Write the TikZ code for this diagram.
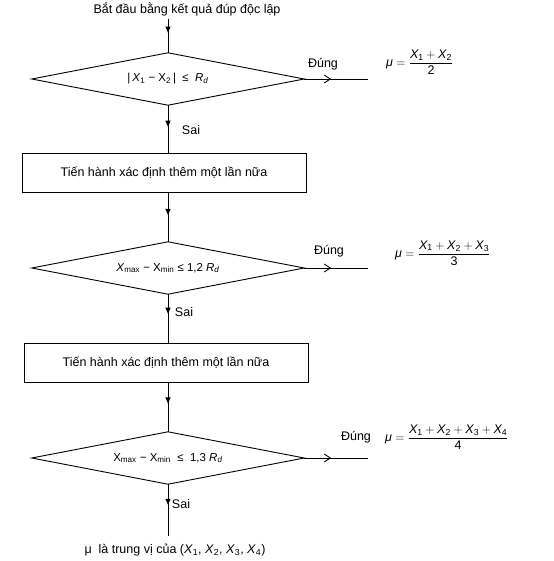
\documentclass[tikz,border=0pt]{standalone}
\usepackage{amsmath}
\usepackage{fontspec}
\setmainfont{Liberation Sans}
\usetikzlibrary{positioning,arrows.meta,decorations.markings}

\newcommand{\vx}[1]{\textit{X}_{\text{#1}}}
\newcommand{\rd}{\textit{R}\textsubscript{\textit{d}}}

\begin{document}
\begin{tikzpicture}[x=1pt, y=-1pt,
    decision/.style={rectangle, inner sep=0pt, minimum width=272pt,
                     minimum height=52pt, font=\fontsize{11.5}{13}\selectfont},
    process/.style={rectangle, draw, line width=0.9pt, minimum width=284pt,
                    minimum height=39pt, font=\fontsize{12.5}{15}\selectfont},
    arrow/.style={line width=0.9pt, postaction={decorate},
                  decoration={markings, mark=at position #1 with {\arrow{Triangle[length=6pt,width=5pt]}}}},
    arrow/.default=0.45,
    yesarrow/.style={line width=0.9pt, postaction={decorate},
                     decoration={markings, mark=at position 0.42 with {\arrow{Straight Barb[length=6pt,width=8pt,line width=0.9pt]}}}},
    label/.style={font=\fontsize{12.5}{15}\selectfont},
    formula/.style={anchor=west, inner sep=0pt, font=\fontsize{12.5}{15}\selectfont}
]
\useasboundingbox (0,0) rectangle (553,561);

% Start
\node[label] (start) at (187,9) {Bắt đầu bằng kết quả đúp độc lập};

% Decisions and steps
\node[decision] (d1) at (168,79) {|\,\textit{X}\textsubscript{1} − X\textsubscript{2}\,| \ ≤ \ \rd};
\node[process] (r1) at (164,173) {Tiến hành xác định thêm một lần nữa};
\node[decision] (d2) at (168,268) {\textit{X}\textsubscript{max} − X\textsubscript{min} ≤ 1,2 \rd};
\node[process] (r2) at (166,363) {Tiến hành xác định thêm một lần nữa};
\node[decision] (d3) at (168,458) {X\textsubscript{max} − X\textsubscript{min} \ ≤ \ 1,3 \rd};

% diamond outlines
\foreach \d in {d1,d2,d3}
    \draw[line width=0.9pt] (\d.north) -- (\d.east) -- (\d.south) -- (\d.west) -- cycle;

% End
\node[label, outer sep=5pt] (final) at (175,550)
    {μ \ là trung vị của (\textit{X}\textsubscript{1}, \textit{X}\textsubscript{2}, \textit{X}\textsubscript{3}, \textit{X}\textsubscript{4})};

% Arrows - down the column
\draw[arrow=0.4] (d1.north |- start.south) -- (d1.north);
\draw[arrow] (d1.south) -- (d1.south |- r1.north);
\draw[arrow] (d2.north |- r1.south) -- (d2.north);
\draw[arrow=0.4] (d2.south) -- (d2.south |- r2.north);
\draw[arrow=0.42] (d3.north |- r2.south) -- (d3.north);
\draw[arrow=0.4] (d3.south) -- (d3.south |- final.north);

\node[label] (sai1) at (191,130) {Sai};
\node[label] (sai2) at (184,312) {Sai};
\node[label] (sai3) at (181,504) {Sai};

% Arrows - to the right
\coordinate (e1) at ([xshift=64pt]d1.east);
\coordinate (e2) at ([xshift=64pt]d2.east);
\coordinate (e3) at ([xshift=64pt]d3.east);
\draw[yesarrow] (d1.east) -- (e1);
\draw[yesarrow] (d2.east) -- (e2);
\draw[yesarrow] (d3.east) -- (e3);

\node[label] (yes1) at (323,64) {Đúng};
\node[label] (yes2) at (329,251) {Đúng};
\node[label] (yes3) at (356,437) {Đúng};

% Results
\node[formula] (f1) at (386,62) {$\text{\itshape μ} = \dfrac{\vx1 + \vx2}{\text{2}}$};
\node[formula] (f2) at (395,253) {$\text{\itshape μ} = \dfrac{\vx1 + \vx2 + \vx3}{\text{3}}$};
\node[formula] (f3) at (385,437) {$\text{\itshape μ} = \dfrac{\vx1 + \vx2 + \vx3 + \vx4}{\text{4}}$};

\end{tikzpicture}
\end{document}
